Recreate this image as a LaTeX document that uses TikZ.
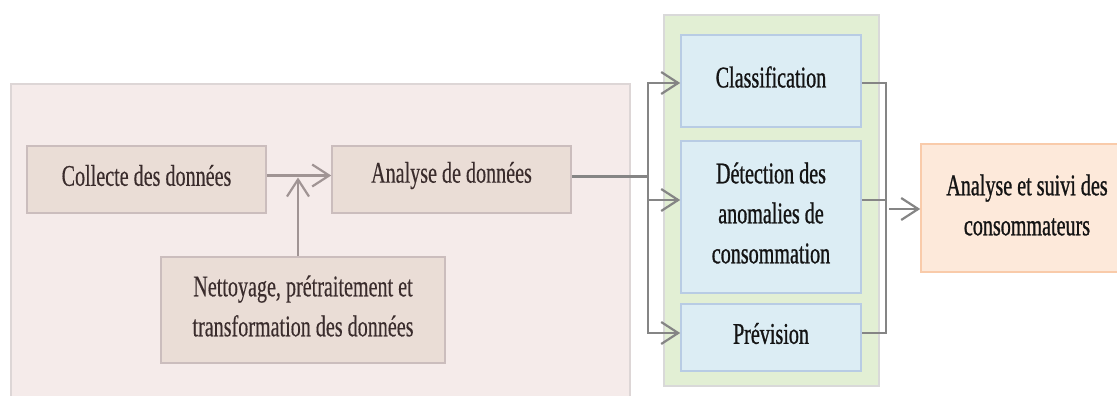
\documentclass[tikz,border=0pt]{standalone}
\usepackage{fontspec}
\setmainfont{Liberation Serif}[FakeStretch=0.67,FakeBold=0.3]
\newfontfamily\boldish{Liberation Serif}[FakeStretch=0.67,FakeBold=0.9]
\usetikzlibrary{arrows.meta}

\definecolor{prepfill}{HTML}{F5EBEA}
\definecolor{prepline}{HTML}{DDD6D6}
\definecolor{stagefill}{HTML}{EADDD6}
\definecolor{stageline}{HTML}{CBBDBD}
\definecolor{stagetext}{HTML}{3A2C2C}
\definecolor{stagearrow}{HTML}{A09494}
\definecolor{methfill}{HTML}{E2EFD4}
\definecolor{methline}{HTML}{D9D9D9}
\definecolor{taskfill}{HTML}{DCEDF4}
\definecolor{taskline}{HTML}{B8CCE4}
\definecolor{outfill}{HTML}{FDE9DA}
\definecolor{outline}{HTML}{F9CBAA}
\definecolor{busgray}{HTML}{858585}

\tikzset{
  panel/.style={draw, line width=1.6pt, anchor=north west, inner sep=0pt},
  stagebox/.style={draw=stageline, fill=stagefill, line width=1.6pt, inner sep=0pt},
  taskbox/.style={draw=taskline, fill=taskfill, line width=1.6pt, inner sep=0pt, minimum width=180pt},
  outbox/.style={draw=outline, fill=outfill, line width=1.6pt, inner sep=0pt},
  lefttext/.style={text=stagetext, align=center, inner sep=0pt, font=\fontsize{30}{40}\selectfont},
  righttext/.style={text=black!92, align=center, inner sep=0pt, font=\boldish\fontsize{30}{40}\selectfont},
  stagearr/.style={draw=stagearrow, line width=2.2pt, -{Straight Barb[length=17pt,width=22pt,line width=2.2pt]}},
  conn/.style={draw=busgray, line width=2.2pt},
  busarr/.style={conn, -{Straight Barb[length=17pt,width=22pt,line width=2.2pt]}},
}

\begin{document}
\begin{tikzpicture}[x=1pt, y=-1pt]
  \useasboundingbox (0,0) rectangle (1117,396);
  \clip (0,0) rectangle (1117,396);

  % data preparation panel
  \node[panel, draw=prepline, fill=prepfill, minimum width=619pt, minimum height=330pt] (prep) at (10,83) {};
  \node[stagebox, minimum width=239pt, minimum height=67pt] (collect) at (146.5,179.5) {};
  \node[lefttext] (collectT) at ([yshift=4pt]collect.center) {Collecte des données};
  \node[stagebox, minimum width=239pt, minimum height=67pt] (analyse) at (451.5,179.5) {};
  \node[lefttext] (analyseT) at ([yshift=4pt]analyse.center) {Analyse de données};
  \node[stagebox, minimum width=284pt, minimum height=106pt] (clean) at (303,310) {};
  \node[lefttext] (cleanT) at ([yshift=4pt]clean.center) {Nettoyage, prétraitement et\\transformation des données};

  \draw[stagearr] (collect.east |- collectT) -- (analyse.west |- collectT);
  \draw[stagearr] ([xshift=-5pt]clean.north) -- ([xshift=-5pt,yshift=-2pt]clean.north |- collectT);

  % methods panel
  \node[panel, draw=methline, fill=methfill, minimum width=215pt, minimum height=371pt] (methods) at (663,14) {};
  \node[taskbox, minimum height=92pt] (classif) at (771,81) {};
  \node[righttext] (classifT) at ([yshift=4pt]classif.center) {Classification};
  \node[taskbox, minimum height=152pt] (detect) at (771,217) {};
  \node[righttext] (detectT) at ([yshift=4pt]detect.center) {Détection des\\anomalies de\\consommation};
  \node[taskbox, minimum height=67pt] (prev) at (771,337.5) {};
  \node[righttext] (prevT) at ([yshift=4pt]prev.center) {Prévision};

  % result
  \node[outbox, minimum width=212pt, minimum height=128pt] (output) at (1027,208) {};
  \node[righttext] (outputT) at ([yshift=3pt]output.center) {Analyse et suivi des\\consommateurs};

  % fan-out towards the methods
  \coordinate (jl) at (648,176.5);
  \coordinate (lc) at ([yshift=-2pt]classif.west);
  \coordinate (ld) at ([yshift=17pt]detect.west);
  \coordinate (lp) at ([yshift=4.5pt]prev.west);
  \draw[conn] (analyse.east |- jl) -- (jl);
  \draw[busarr] (jl) |- (lc);
  \draw[busarr] (jl) |- (lp);
  \draw[busarr] (jl |- ld) -- (ld);

  % fan-in towards the result
  \coordinate (jr) at (886,209);
  \coordinate (rc) at ([yshift=-2pt]classif.east);
  \coordinate (rd) at ([yshift=17pt]detect.east);
  \coordinate (rp) at ([yshift=4.5pt]prev.east);
  \draw[conn] (rc) -| (jr |- rp) -- (rp);
  \draw[conn] (rd) -- (jr |- rd);
  \draw[busarr] ([xshift=3pt]jr) -- (output.west |- jr);
\end{tikzpicture}
\end{document}
